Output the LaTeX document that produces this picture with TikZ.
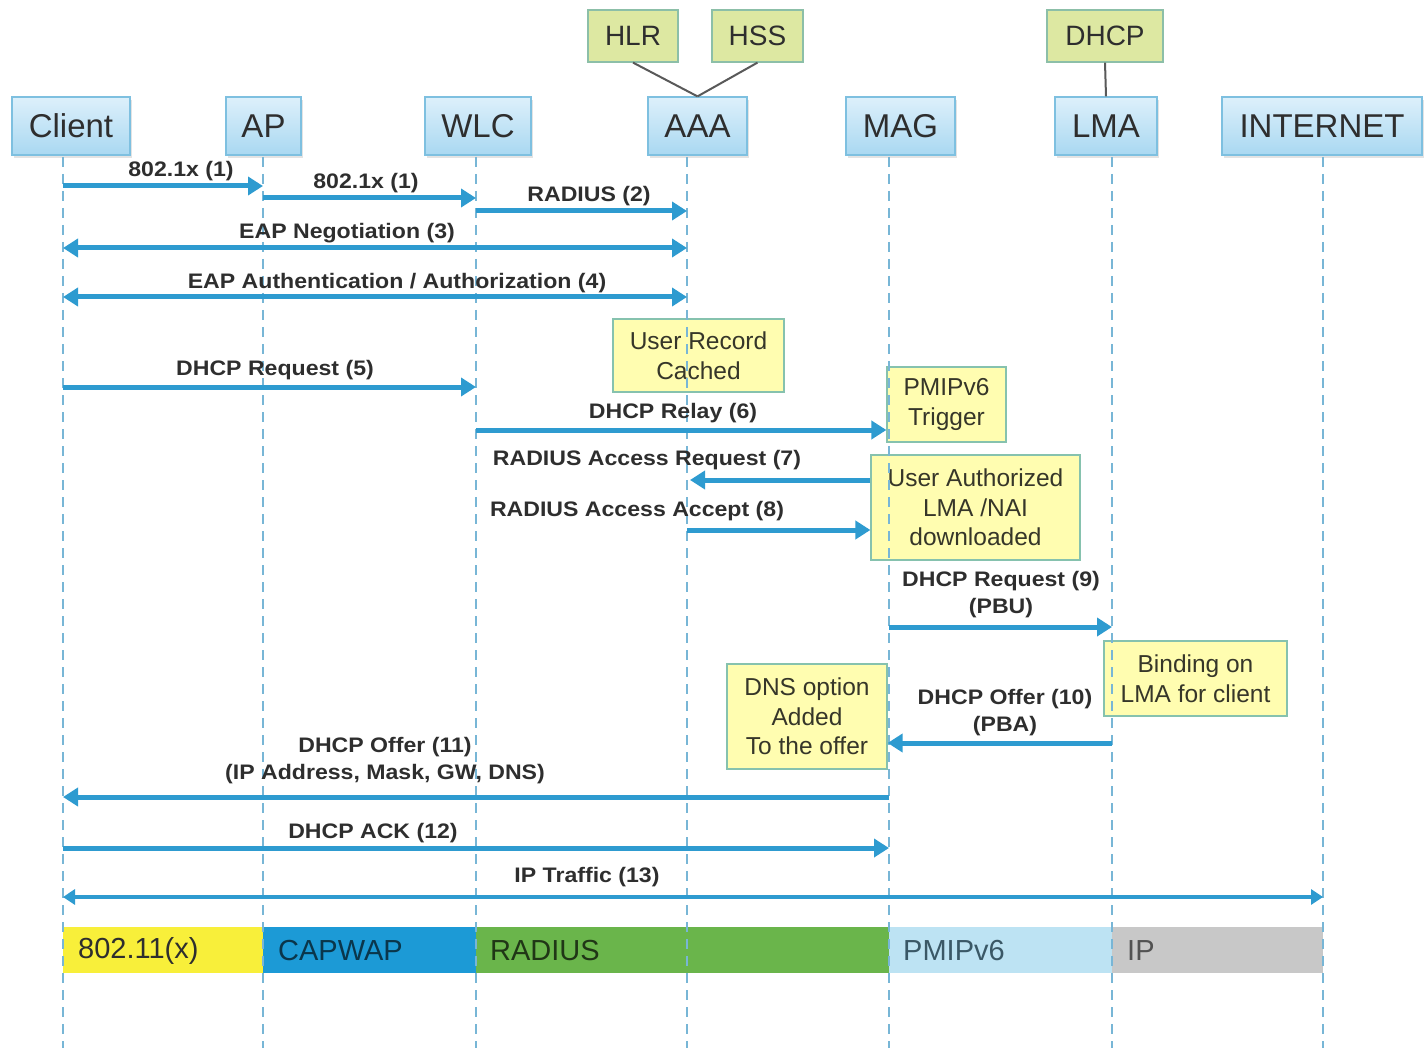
\documentclass[tikz,border=0pt]{standalone}
\usepackage{fontspec}
\setmainfont{Liberation Sans}
\newfontfamily\msgfont[FakeStretch=1.1]{Liberation Sans}
\usetikzlibrary{arrows.meta,shadows}

\definecolor{hdrtop}{HTML}{DDF0FB}
\definecolor{hdrbot}{HTML}{A9D8F1}
\definecolor{hdrline}{HTML}{7EC0E0}
\definecolor{dbfill}{HTML}{DDE8A2}
\definecolor{dbline}{HTML}{8CBFA8}
\definecolor{notefill}{HTML}{FFFDB0}
\definecolor{noteline}{HTML}{86C2AE}
\definecolor{msgblue}{HTML}{2E9BD0}
\definecolor{lifeblue}{HTML}{78B6D6}
\definecolor{txt}{HTML}{2E2E2E}
\definecolor{bandyellow}{HTML}{F8EF3A}
\definecolor{bandblue}{HTML}{1C9AD6}
\definecolor{bandgreen}{HTML}{6AB54B}
\definecolor{bandlight}{HTML}{BDE3F3}
\definecolor{bandgrey}{HTML}{C8C8C8}

\tikzset{
  hdr/.style={draw=hdrline, line width=1.2pt, top color=hdrtop, bottom color=hdrbot,
    minimum height=58pt, inner sep=0pt, text=txt,
    font=\fontsize{33}{36}\selectfont,
    drop shadow={shadow xshift=1.5pt, shadow yshift=-3pt, fill=black!22}},
  dbbox/.style={draw=dbline, line width=1.2pt, fill=dbfill, minimum height=52pt,
    inner sep=0pt, text=txt, font=\fontsize{28}{30}\selectfont},
  notebox/.style={draw=noteline, line width=1.2pt, fill=notefill, inner sep=0pt,
    align=center, text=txt!90!olive, font=\fontsize{24.5}{29.5}\selectfont},
  msg/.style={draw=msgblue, line width=5pt, -{Triangle[length=15pt,width=18pt]}},
  msgboth/.style={draw=msgblue, line width=5pt,
    {Triangle[length=15pt,width=18pt]}-{Triangle[length=15pt,width=18pt]}},
  lbl/.style={text=txt, align=center, inner sep=0pt,
    font=\msgfont\fontsize{21}{27}\selectfont\bfseries},
  lifeline/.style={draw=lifeblue, line width=1.7pt, dash pattern=on 10pt off 7pt},
  link/.style={draw=black!65, line width=2pt},
  bandtxt/.style={anchor=west, inner sep=0pt, font=\fontsize{29}{30}\selectfont}
}

\begin{document}
\begin{tikzpicture}[x=1pt, y=-1pt]
\useasboundingbox (0,0) rectangle (1426,1048);

% participants
\node[hdr, minimum width=118pt] (client) at (71,126) {Client};
\node[hdr, minimum width=75pt]  (ap)     at (263.5,126) {AP};
\node[hdr, minimum width=106pt] (wlc)    at (478,126) {WLC};
\node[hdr, minimum width=99pt]  (aaa)    at (697.5,126) {AAA};
\node[hdr, minimum width=109pt] (mag)    at (900.5,126) {MAG};
\node[hdr, minimum width=102pt] (lma)    at (1106,126) {LMA};
\node[hdr, minimum width=200pt] (inet)   at (1322,126) {INTERNET};

% back-end databases
\node[dbbox, minimum width=90pt]  (hlr)  at (633,36) {HLR};
\node[dbbox, minimum width=91pt]  (hss)  at (757.5,36) {HSS};
\node[dbbox, minimum width=116pt] (dhcp) at (1105,36) {DHCP};
\draw[link] (hlr.south) -- (aaa.north);
\draw[link] (hss.south) -- (aaa.north);
\draw[link] (dhcp.south) -- (lma.north);

% lifeline positions
\coordinate (lc) at (63,157);
\coordinate (la) at (263,157);
\coordinate (lw) at (476,157);
\coordinate (lx) at (687,157);
\coordinate (lm) at (889,157);
\coordinate (ll) at (1112,157);
\coordinate (li) at (1323,157);

% protocol band
\fill[bandyellow] (lc |- 0,927) rectangle (la |- 0,973);
\fill[bandblue]   (la |- 0,927) rectangle (lw |- 0,973);
\fill[bandgreen]  (lw |- 0,927) rectangle (lm |- 0,973);
\fill[bandlight]  (lm |- 0,927) rectangle (ll |- 0,973);
\fill[bandgrey]   (ll |- 0,927) rectangle (li |- 0,973);
\node[bandtxt, text=txt] (b1) at (78,951) {802.11(x)};
\node[bandtxt, text=bandblue!35!black] (b2) at (278,951) {CAPWAP};
\node[bandtxt, text=bandgreen!30!black] (b3) at (490,951) {RADIUS};
\node[bandtxt, text=bandblue!30!black!80] (b4) at (903,951) {PMIPv6};
\node[bandtxt, text=black!68] (b5) at (1127,951) {IP};

% notes
\node[notebox, minimum width=171pt, minimum height=73pt] (ucache) at (698.5,355.5) {User Record\\Cached};
\node[notebox, minimum width=119pt, minimum height=75pt] (pmip) at (946.5,404.5) {PMIPv6\\Trigger};
\node[notebox, minimum width=209pt, minimum height=105pt] (uauth) at (975.5,507.5) {User Authorized\\LMA /NAI\\downloaded};
\node[notebox, minimum width=183pt, minimum height=75pt] (bind) at (1195.5,678.5) {Binding on\\LMA for client};
\node[notebox, minimum width=160pt, minimum height=105pt] (dns) at (807,716.5) {DNS option\\Added\\To the offer};

% lifelines
\foreach \p in {lc,la,lw,lx,lm,ll,li}
  \draw[lifeline] (\p) -- (\p |- 0,1048);

% messages
\draw[msg] (lc |- 0,186) -- (la |- 0,186);
\node[lbl] (t1) at (181,171) {802.1x (1)};
\draw[msg] (la |- 0,198) -- (lw |- 0,198);
\node[lbl] (t2) at (366,183) {802.1x (1)};
\draw[msg] (lw |- 0,211) -- (lx |- 0,211);
\node[lbl] (t3) at (589,196) {RADIUS (2)};
\draw[msgboth] (lc |- 0,248) -- (lx |- 0,248);
\node[lbl] (t4) at (347,233) {EAP Negotiation (3)};
\draw[msgboth] (lc |- 0,297) -- (lx |- 0,297);
\node[lbl] (t5) at (397,283) {EAP Authentication / Authorization (4)};
\draw[msg] (lc |- 0,387) -- (lw |- 0,387);
\node[lbl] (t6) at (275,370) {DHCP Request (5)};
\draw[msg] (lw |- 0,430) -- (pmip.west |- 0,430);
\node[lbl] (t7) at (673,413) {DHCP Relay (6)};
\draw[msg] (uauth.west |- 0,480) -- ([xshift=3pt]lx |- 0,480);
\node[lbl] (t8) at (647,460) {RADIUS Access Request (7)};
\draw[msg] (lx |- 0,530) -- (uauth.west |- 0,530);
\node[lbl] (t9) at (637,511) {RADIUS Access Accept (8)};
\draw[msg] (lm |- 0,627) -- (ll |- 0,627);
\node[lbl] (t10) at (1001,595) {DHCP Request (9)\\(PBU)};
\draw[msg] (ll |- 0,743) -- (dns.east |- 0,743);
\node[lbl] (t11) at (1005,713) {DHCP Offer (10)\\(PBA)};
\draw[msg] (lm |- 0,797) -- (lc |- 0,797);
\node[lbl] (t12) at (385,761) {DHCP Offer (11)\\(IP Address, Mask, GW, DNS)};
\draw[msg] (lc |- 0,848) -- (lm |- 0,848);
\node[lbl] (t13) at (373,833) {DHCP ACK (12)};
\draw[draw=msgblue, line width=3.6pt, {Triangle[length=12pt,width=15pt]}-{Triangle[length=12pt,width=15pt]}] (lc |- 0,897) -- (li |- 0,897);
\node[lbl] (t14) at (587,877) {IP Traffic (13)};
\end{tikzpicture}
\end{document}
